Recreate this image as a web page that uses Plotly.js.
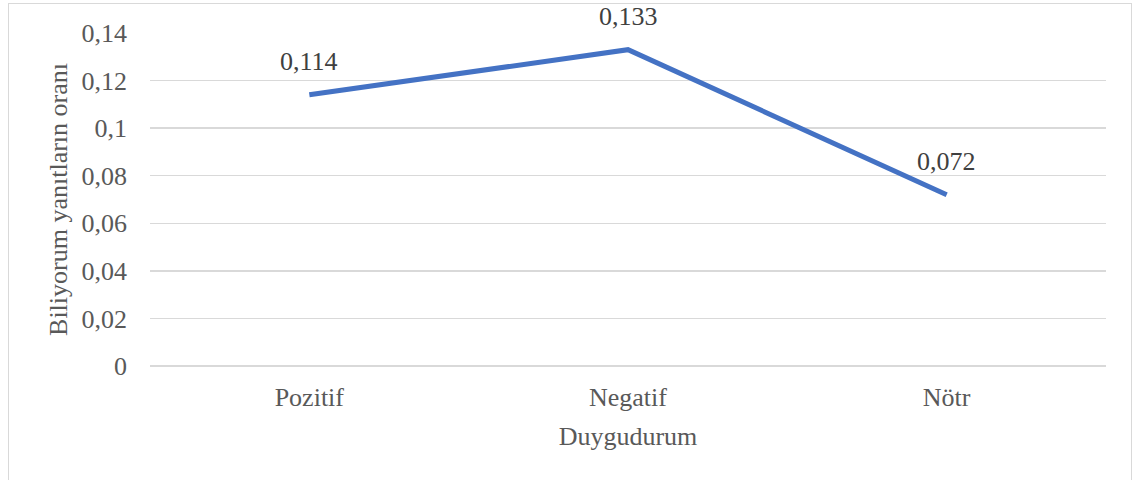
<!DOCTYPE html>
<html>
<head>
<meta charset="utf-8">
<script src="https://cdn.plot.ly/plotly-3.0.1.min.js"></script>
<style>
  html, body { margin: 0; padding: 0; background: #fff; }
  #frame { position: absolute; left: 8px; top: 3px; width: 1124px; height: 500px; border: 1.5px solid #d9d9d9; box-sizing: border-box; }
  #chart { position: absolute; left: 0; top: 0; width: 1138px; height: 480px; }
</style>
</head>
<body>
<div id="frame"></div>
<div id="chart"></div>
<script>
const categories = ["Pozitif", "Negatif", "Nötr"];
const values = [0.114, 0.133, 0.072];
const valueLabels = ["0,114", "0,133", "0,072"];
const yTickVals = [0, 0.02, 0.04, 0.06, 0.08, 0.1, 0.12, 0.14];
const yTickText = ["0", "0,02", "0,04", "0,06", "0,08", "0,1", "0,12", "0,14"];
const xTitle = "Duygudurum";
const yTitle = "Biliyorum yanıtların oranı";

const font = { family: "Liberation Serif", size: 26, color: "#595959" };

const trace = {
  x: categories,
  y: values,
  type: "scatter",
  mode: "lines",
  line: { color: "#4472C4", width: 5 },
  hoverinfo: "skip"
};

const annotations = categories.map((c, i) => ({
  x: c, y: values[i], xref: "x", yref: "y",
  text: valueLabels[i], showarrow: false,
  yshift: 33, font: { family: font.family, size: 26, color: "#404040" }
}));

const layout = {
  width: 1138, height: 480,
  paper_bgcolor: "rgba(0,0,0,0)",
  plot_bgcolor: "rgba(0,0,0,0)",
  margin: { l: 150, r: 32, t: 33, b: 114 },
  font: font,
  showlegend: false,
  xaxis: {
    type: "category",
    range: [-0.5, 2.5],
    showgrid: false, zeroline: false, showline: false,
    ticks: "", ticklabelstandoff: 13,
    tickfont: font,
    title: { text: xTitle, font: font, standoff: 15 }
  },
  yaxis: {
    range: [0, 0.14],
    tickvals: yTickVals, ticktext: yTickText,
    showgrid: true, gridcolor: "#d9d9d9", gridwidth: 1.5,
    zeroline: true, zerolinecolor: "#d9d9d9", zerolinewidth: 1.5,
    showline: false, ticks: "",
    ticklabelstandoff: 22,
    tickfont: font,
    title: { text: yTitle, font: font, standoff: 6 }
  },
  annotations: annotations
};

Plotly.newPlot("chart", [trace], layout, { displayModeBar: false, staticPlot: true });
</script>
</body>
</html>
